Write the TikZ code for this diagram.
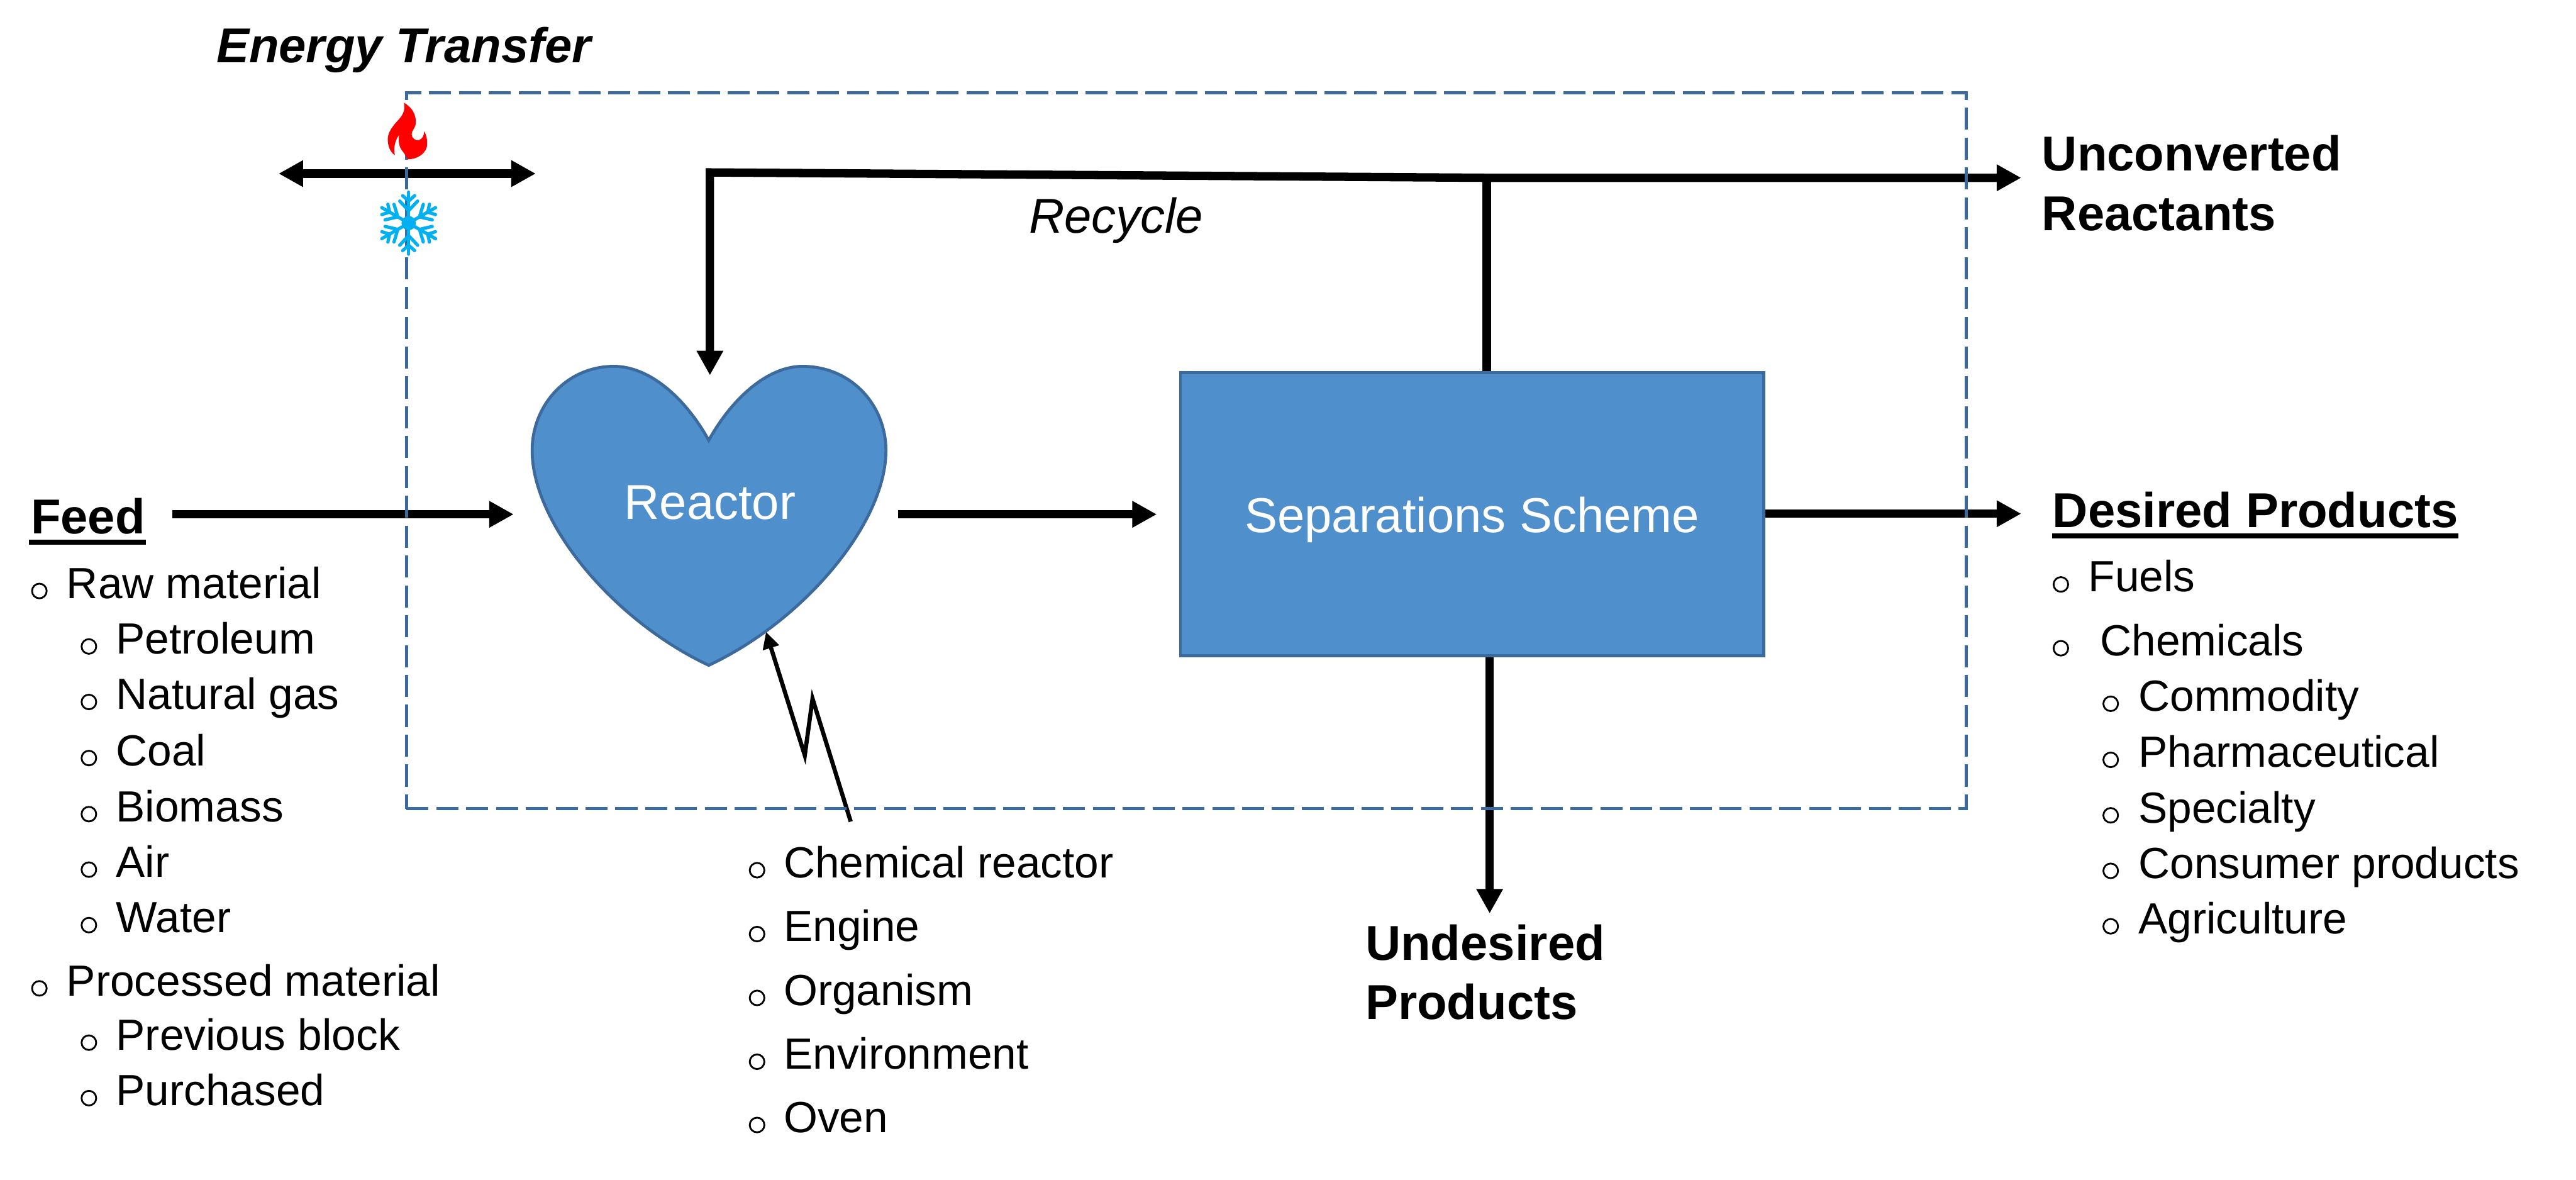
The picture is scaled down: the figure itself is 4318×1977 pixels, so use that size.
\documentclass[tikz,border=0pt]{standalone}
\usepackage{fontspec}
\setmainfont{Liberation Sans}
\usetikzlibrary{arrows.meta,calc}
\definecolor{boxfill}{HTML}{4F8FCC}
\definecolor{boxline}{HTML}{3C6A9C}
\definecolor{flake}{HTML}{00B0F0}
\newcommand{\listfont}{\fontsize{20.8}{24}\selectfont}
\newcommand{\headfont}{\fontsize{23.35}{28}\selectfont}
% name, bullet x, text x, baseline y, text
\newcommand{\lst}[5]{%
  \node[listtext] (#1) at (#3,#4) {#5};
  \node[bul] (#1b) at (#2,#4-12.5) {};
}
\newcommand{\head}[3]{\node[headtext] (#1) at (#2) {#3};}
\tikzset{
  x=0.01cm,y=-0.01cm,
  listtext/.style={anchor=base west,inner sep=0pt,font=\listfont},
  headtext/.style={anchor=base west,inner sep=0pt,font=\headfont},
  bul/.style={circle,draw=black,line width=0.03cm,inner sep=0pt,minimum size=0.245cm},
  flow/.style={line width=0.14cm,-{Triangle[length=0.41cm,width=0.42cm]}},
  flowboth/.style={line width=0.14cm,{Triangle[length=0.41cm,width=0.42cm]}-{Triangle[length=0.41cm,width=0.42cm]}},
  flowb/.style={line width=0.14cm},
  shapeb/.style={fill=boxfill,draw=boxline,line width=0.05cm},
  sysb/.style={draw=boxline,line width=0.05cm,dash pattern=on 0.37cm off 0.13cm},
  flakeline/.style={draw=flake,line width=0.055cm,line cap=round},
  underl/.style={line width=0.09cm},
}
\begin{document}
\begin{tikzpicture}
\useasboundingbox (0,0) rectangle (4318,1977);
% heart and box
\draw[shapeb] (1188,738)
  .. controls (1150,669) and (1090,614) .. (1029,614)
  .. controls (950,614) and (892,679) .. (892,755)
  .. controls (892,878) and (1030,1041) .. (1188,1115)
  .. controls (1346,1041) and (1485,878) .. (1485,755)
  .. controls (1485,679) and (1427,614) .. (1345,614)
  .. controls (1286,614) and (1226,669) .. (1188,738) -- cycle;
\node[inner sep=0pt,font=\headfont,text=white] (reactor) at (1190,842) {Reactor};
\node[shapeb,minimum width=9.77cm,minimum height=4.745cm,inner sep=0pt] (sep) at (2467.5,862) {};
\node[inner sep=0pt,font=\headfont,text=white,anchor=base] (septext) at (2467.5,892) {Separations Scheme};
\coordinate (feedstart) at (289,862);
\coordinate (feedend) at (861,862);
\coordinate (rstart) at (1505,862);
\coordinate (rend) at (1939,862);
\coordinate (dpend) at (3388,861);
\coordinate (updown) at (2497,1531);
\coordinate (recL) at (1190,289);
\coordinate (recJ) at (2492,298);
\coordinate (recR) at (3388,298);
\coordinate (recD) at (1190,629);
\coordinate (dleft) at (467,291);
\coordinate (dright) at (898,291);
% flows
\draw[flow] (feedstart) -- (feedend);
\draw[flow] (rstart) -- (rend);
\draw[flow] (sep.east |- dpend) -- (dpend);
\draw[flow] (sep.south -| updown) -- (updown);
\draw[flowb] (sep.north -| recJ) -- (recJ);
\draw[flowboth,line join=miter] (recD) -- (recL) -- (recJ) -- (recR);
\draw[flowboth] (dleft) -- (dright);
% lightning
\coordinate (ltip) at (1284,1059);
\coordinate (la) at (1349,1266);
\coordinate (lb) at (1362,1171);
\coordinate (lend) at (1426,1377);
\draw[line width=0.07cm,miter limit=10,{Triangle[length=0.28cm,width=0.27cm]}-] (ltip) -- (la) -- (lb) -- (lend);
% system boundary
\node[sysb,minimum width=26.13cm,minimum height=11.99cm,inner sep=0pt] (sys) at (1988.5,755.5) {};
% flame
\fill[red] (677,172)
  .. controls (690,180) and (697,190) .. (697,205)
  .. controls (697,215) and (690,218) .. (690,225)
  .. controls (690,232) and (697,236) .. (702,235)
  .. controls (708,233) and (711,227) .. (711,220)
  .. controls (716,228) and (717,240) .. (715,248)
  .. controls (711,258) and (700,267) .. (683,267)
  .. controls (680,258) and (672,252) .. (670,245)
  .. controls (668,238) and (668,232) .. (669,226)
  .. controls (662,235) and (659,250) .. (662,260)
  .. controls (654,255) and (650,245) .. (650,233)
  .. controls (650,222) and (658,212) .. (665,204)
  .. controls (675,194) and (680,185) .. (677,172) -- cycle;
% snowflake
\begin{scope}[shift={(685,374)}]
  \fill[flake] (0,0) circle[radius=0.12cm];
  \foreach \a in {0,60,...,300}{
    \begin{scope}[rotate=\a]
      \draw[flakeline] (0,0) -- (0,-52);
      \draw[flakeline] (-10,-46) -- (0,-37) -- (10,-46);
      \draw[flakeline] (-15,-37) -- (0,-21) -- (15,-37);
    \end{scope}
  }
\end{scope}
% headings
\head{energy}{362,105}{\bfseries\itshape Energy Transfer}
\head{recycle}{1724,391}{\itshape Recycle}
\head{unconv}{3422,286}{\bfseries Unconverted}
\head{reactants}{3422,386}{\bfseries Reactants}
\head{undes}{2288,1609}{\bfseries Undesired}
\head{prods}{2288,1708}{\bfseries Products}
\head{feed}{51,895}{\bfseries Feed}
\head{desired}{3440,884}{\bfseries Desired Products}
\coordinate (feedulL) at ($(feed.base west)+(-2,13.5)$);
\coordinate (feedulR) at ($(feed.base east)+(0,13.5)$);
\coordinate (desulL) at ($(desired.base west)+(0,14)$);
\coordinate (desulR) at ($(desired.base east)+(0,14)$);
\draw[underl] (feedulL) -- (feedulR);
\draw[underl] (desulL) -- (desulR);
% feed list
\lst{l1}{66}{111}{1003}{Raw material}
\lst{l2}{149}{194}{1096}{Petroleum}
\lst{l3}{149}{194}{1189}{Natural gas}
\lst{l4}{149}{194}{1283}{Coal}
\lst{l5}{149}{194}{1377}{Biomass}
\lst{l6}{149}{194}{1470}{Air}
\lst{l7}{149}{194}{1563}{Water}
\lst{l8}{66}{111}{1669}{Processed material}
\lst{l9}{149}{194}{1760}{Previous block}
\lst{l10}{149}{194}{1853}{Purchased}
% reactor list
\lst{r1}{1269}{1313}{1471}{Chemical reactor}
\lst{r2}{1269}{1313}{1578}{Engine}
\lst{r3}{1269}{1313}{1685}{Organism}
\lst{r4}{1269}{1313}{1792}{Environment}
\lst{r5}{1269}{1313}{1898}{Oven}
% product list
\lst{p1}{3454.5}{3500}{992}{Fuels}
\lst{p2}{3454.5}{3520}{1099}{Chemicals}
\lst{p3}{3538}{3584}{1192}{Commodity}
\lst{p4}{3538}{3584}{1286}{Pharmaceutical}
\lst{p5}{3538}{3584}{1379}{Specialty}
\lst{p6}{3538}{3584}{1472}{Consumer products}
\lst{p7}{3538}{3584}{1565}{Agriculture}
\end{tikzpicture}
\end{document}
